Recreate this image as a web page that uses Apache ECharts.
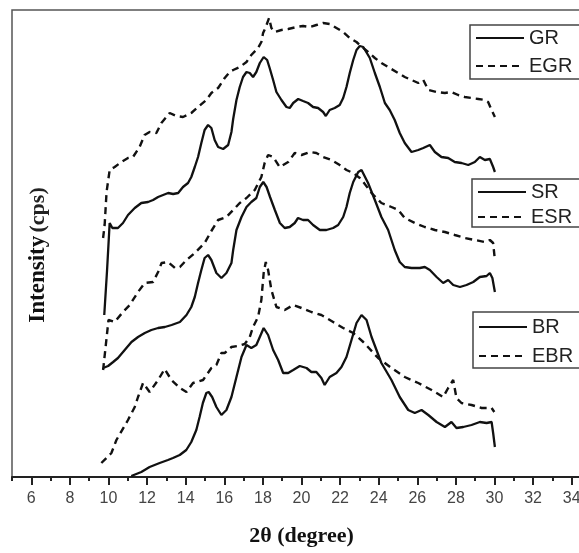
<!DOCTYPE html>
<html>
<head>
<meta charset="utf-8">
<script src="https://cdn.jsdelivr.net/npm/echarts@6/dist/echarts.min.js"></script>
<style>
  html, body { margin: 0; padding: 0; background: #fff; }
  #main { width: 579px; height: 553px; }
</style>
</head>
<body>
<div id="main"></div>
<script>
// 2θ (degree) tick positions
var xMajorTicks = [6, 8, 10, 12, 14, 16, 18, 20, 22, 24, 26, 28, 30, 32, 34];
var xMinorTicks = [5, 7, 9, 11, 13, 15, 17, 19, 21, 23, 25, 27, 29, 31, 33, 35];

// [2θ, intensity] pairs (curves are stacked, arbitrary cps)
var GR = [[9.78,162],[9.92,205],[10.06,254],[10.2,249],[10.49,249],[10.75,254],[11.01,262],[11.36,269],[11.70,274],[12.05,275],[12.31,277],[12.57,280],[12.83,282],[13.09,284],[13.35,283],[13.61,284],[13.86,290],[14.12,294],[14.29,300],[14.47,310],[14.64,320],[14.81,334],[14.98,347],[15.16,352],[15.33,349],[15.50,337],[15.68,330],[15.94,328],[16.20,332],[16.37,345],[16.46,358],[16.63,377],[16.80,390],[16.97,400],[17.15,405],[17.32,404],[17.49,400],[17.66,405],[17.84,414],[18.04,420],[18.22,417],[18.35,409],[18.53,397],[18.70,385],[18.96,377],[19.22,370],[19.39,369],[19.57,374],[19.83,378],[20.08,376],[20.34,374],[20.60,370],[20.86,369],[21.12,365],[21.26,361],[21.46,367],[21.72,369],[21.98,372],[22.16,379],[22.33,390],[22.50,404],[22.68,417],[22.85,427],[23.02,431],[23.20,430],[23.28,429],[23.54,419],[23.80,404],[24.06,390],[24.32,374],[24.57,367],[24.83,357],[25.09,344],[25.35,334],[25.70,325],[26.05,327],[26.31,329],[26.65,332],[26.91,325],[27.25,320],[27.60,319],[27.94,315],[28.29,314],[28.64,312],[28.98,315],[29.24,320],[29.50,317],[29.76,318],[29.93,310],[30.02,305]];

var EGR = [[9.72,239],[9.8,252],[9.9,285],[10.06,307],[10.32,310],[10.67,315],[11.01,319],[11.27,320],[11.61,330],[11.87,342],[12.13,345],[12.48,344],[12.74,354],[13.17,364],[13.52,361],[13.86,360],[14.29,364],[14.64,370],[15.07,377],[15.33,384],[15.68,389],[16.02,399],[16.28,405],[16.46,407],[16.80,410],[17.15,415],[17.40,422],[17.75,429],[17.92,435],[18.01,444],[18.15,450],[18.32,459],[18.44,449],[18.61,445],[18.96,447],[19.31,448],[19.74,450],[20.08,451],[20.43,450],[20.77,452],[21.12,454],[21.46,453],[21.81,449],[22.16,445],[22.50,439],[22.85,435],[23.02,432],[23.45,425],[23.80,419],[24.14,414],[24.57,409],[25.01,404],[25.35,400],[25.70,397],[26.05,394],[26.31,397],[26.57,387],[27.00,385],[27.43,384],[27.77,385],[28.12,382],[28.46,380],[28.81,379],[29.16,378],[29.50,377],[29.67,375],[29.85,367],[30.02,360]];

var SR = [[9.72,109],[9.98,111],[10.24,115],[10.49,119],[10.84,127],[11.19,135],[11.53,140],[11.88,144],[12.22,147],[12.57,149],[12.92,150],[13.27,152],[13.70,155],[14.04,162],[14.29,170],[14.47,180],[14.64,194],[14.81,207],[14.98,219],[15.16,222],[15.33,217],[15.59,204],[15.85,199],[16.11,204],[16.37,214],[16.46,227],[16.63,247],[16.89,260],[17.15,270],[17.40,275],[17.66,279],[17.84,290],[18.02,295],[18.19,290],[18.37,280],[18.62,267],[18.88,254],[19.13,249],[19.39,250],[19.65,254],[19.82,259],[20.08,257],[20.34,257],[20.60,252],[20.95,247],[21.29,247],[21.64,249],[21.90,252],[22.16,260],[22.33,270],[22.50,284],[22.68,295],[22.94,305],[23.11,307],[23.45,294],[23.80,277],[24.14,260],[24.49,247],[24.83,227],[25.09,215],[25.35,210],[25.70,209],[26.13,209],[26.39,210],[26.65,207],[27.00,200],[27.34,194],[27.60,197],[27.86,192],[28.21,190],[28.55,192],[28.90,195],[29.24,200],[29.59,201],[29.76,204],[29.89,199],[30.02,185]];

var ESR = [[9.72,107],[9.85,130],[10.0,157],[10.32,155],[10.75,165],[11.10,172],[11.53,185],[11.88,194],[12.31,195],[12.57,205],[12.75,214],[13.09,215],[13.44,209],[13.70,210],[14.04,217],[14.47,224],[14.98,234],[15.33,246],[15.68,257],[16.11,260],[16.46,267],[16.80,274],[17.15,279],[17.58,287],[17.92,300],[18.09,314],[18.27,322],[18.53,320],[18.87,310],[19.31,315],[19.65,324],[20.00,322],[20.43,325],[20.77,324],[21.12,320],[21.55,317],[21.98,312],[22.33,307],[22.68,304],[23.02,299],[23.20,295],[23.63,284],[24.14,274],[24.66,270],[25.01,267],[25.35,259],[25.87,254],[26.39,250],[26.91,247],[27.43,245],[27.94,242],[28.46,239],[28.98,237],[29.50,235],[29.76,237],[29.93,234],[30.02,217]];

var BR = [[11.18,1],[11.70,5],[12.13,10],[12.65,14],[13.08,17],[13.34,19],[13.69,22],[14.03,27],[14.29,35],[14.55,47],[14.72,60],[14.89,74],[15.07,84],[15.19,85],[15.37,80],[15.59,70],[15.85,62],[16.11,67],[16.37,80],[16.63,100],[16.89,120],[17.15,132],[17.40,129],[17.66,132],[17.84,140],[18.04,149],[18.27,142],[18.53,127],[18.79,117],[19.05,104],[19.31,104],[19.57,107],[19.91,111],[20.26,109],[20.51,105],[20.77,105],[21.03,99],[21.20,92],[21.46,100],[21.81,104],[22.07,110],[22.33,120],[22.59,137],[22.85,154],[23.11,162],[23.37,157],[23.63,140],[24.14,114],[24.66,97],[25.09,80],[25.53,67],[25.87,64],[26.22,67],[26.57,62],[27.00,55],[27.43,50],[27.77,55],[28.03,49],[28.38,50],[28.81,52],[29.24,55],[29.59,54],[29.85,55],[29.93,44],[30.02,30]];

var EBR = [[9.63,14],[10.15,24],[10.41,37],[11.01,57],[11.36,70],[11.53,80],[11.79,94],[12.13,85],[12.57,97],[12.91,108],[13.26,97],[13.70,89],[14.04,85],[14.38,94],[14.90,97],[15.33,109],[15.59,112],[15.85,124],[16.02,124],[16.37,130],[16.71,131],[17.06,133],[17.32,140],[17.49,150],[17.75,160],[17.92,177],[18.04,204],[18.15,215],[18.27,207],[18.44,187],[18.70,170],[19.13,167],[19.57,172],[20.00,169],[20.51,165],[21.03,162],[21.64,155],[22.16,149],[22.68,144],[23.20,135],[23.97,119],[24.66,109],[25.35,100],[26.05,94],[26.74,87],[27.34,80],[27.60,89],[27.86,97],[28.03,79],[28.29,74],[28.81,72],[29.33,69],[29.85,69],[29.99,65]];

var chart = echarts.init(document.getElementById('main'));

var solid = { color: '#111', width: 2.3, type: 'solid' };
var dashed = { color: '#111', width: 2.4, type: [7, 5] };
var sansFont = "'Liberation Sans', Arial, sans-serif";
var serifFont = "'Liberation Serif', 'Times New Roman', serif";

function curve(name, data, isDashed) {
  return {
    name: name,
    type: 'line',
    data: data,
    symbol: 'none',
    showSymbol: false,
    silent: true,
    itemStyle: { color: '#111' },
    lineStyle: isDashed ? dashed : solid
  };
}

// legend box: line sample + name, no marker dot
function box(names, left, top, gap, pad, lh) {
  return {
    data: names,
    orient: 'vertical',
    left: left,
    top: top,
    itemWidth: 48,
    itemHeight: 14,
    itemGap: gap,
    padding: pad,
    borderColor: '#444',
    borderWidth: 1.5,
    selectedMode: false,
    itemStyle: { color: 'rgba(0,0,0,0)', borderWidth: 0, opacity: 0 },
    lineStyle: { width: 2 },
    textStyle: { fontSize: 20, lineHeight: lh, color: '#222', fontFamily: sansFont }
  };
}

var option = {
  animation: false,
  backgroundColor: '#fff',
  grid: {
    left: 12, top: 10, width: 579, height: 467,
    show: true, borderColor: '#555', borderWidth: 1.5,
    containLabel: false, outerBoundsMode: 'none'
  },
  legend: [
    box(['GR', 'EGR'], 470, 25, 6, [2, 30, 2, 5], 22),
    box(['SR', 'ESR'], 472, 179, 5, [3, 30, 0, 5], 20),
    box(['BR', 'EBR'], 473, 312, 7, [4, 30, 1, 5], 22)
  ],
  xAxis: [
    {
      type: 'value', min: 5, max: 35, position: 'bottom',
      axisLine: { show: true, lineStyle: { color: '#222', width: 2 } },
      axisTick: { show: true, customValues: xMajorTicks, length: 8, lineStyle: { color: '#222', width: 2 } },
      axisLabel: { customValues: xMajorTicks, margin: 14, fontSize: 16, color: '#444', fontFamily: sansFont },
      splitLine: { show: false },
      name: '2θ (degree)', nameLocation: 'middle', nameGap: 48,
      nameTextStyle: { fontFamily: serifFont, fontWeight: 'bold', fontSize: 22, color: '#111' }
    },
    {
      type: 'value', min: 5, max: 35, position: 'bottom',
      axisLine: { show: false },
      axisTick: { show: true, customValues: xMinorTicks, length: 4, lineStyle: { color: '#222', width: 2 } },
      axisLabel: { show: false },
      splitLine: { show: false }
    }
  ],
  yAxis: {
    type: 'value', min: 0, max: 467,
    axisLine: { show: false }, axisTick: { show: false },
    axisLabel: { show: false }, splitLine: { show: false }
  },
  graphic: [{
    type: 'text', x: 38, y: 255, rotation: Math.PI / 2, silent: true,
    style: {
      text: '{a|Intensity} {b|(cps)}',
      align: 'center', verticalAlign: 'middle',
      rich: {
        a: { fontFamily: serifFont, fontWeight: 'bold', fontSize: 23, fill: '#111' },
        b: { fontFamily: serifFont, fontWeight: 'bold', fontSize: 22, fill: '#222' }
      }
    }
  }],
  series: [
    curve('GR', GR, false),
    curve('EGR', EGR, true),
    curve('SR', SR, false),
    curve('ESR', ESR, true),
    curve('BR', BR, false),
    curve('EBR', EBR, true)
  ]
};

chart.setOption(option);
</script>
</body>
</html>
